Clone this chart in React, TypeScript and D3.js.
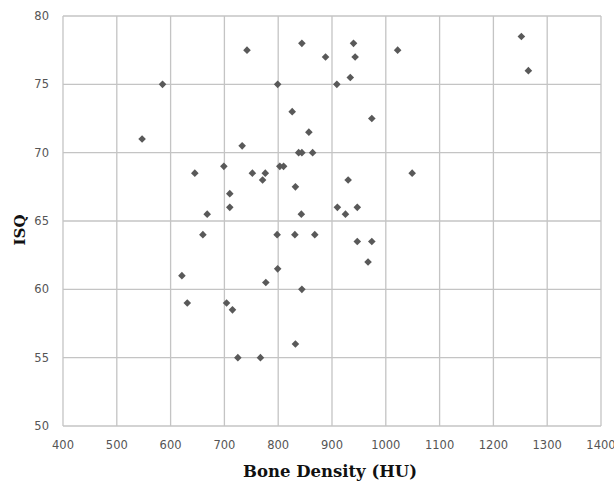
import React from "react";
import * as d3 from "d3";

const boneDensity = [
  547, 585, 621, 631, 645, 660, 668, 699, 704, 710, 710, 715, 725, 733, 742, 752,
  767, 771, 776, 777, 798, 799, 799, 803, 810, 826, 831, 832, 832, 838, 844, 844,
  843, 844, 857, 864, 868, 888, 909, 910, 925, 930, 934, 940, 943, 947, 947, 967,
  974, 974, 1022, 1049, 1252, 1265,
];
const isq = [
  71, 75, 61, 59, 68.5, 64, 65.5, 69, 59, 67, 66, 58.5, 55, 70.5, 77.5, 68.5,
  55, 68, 68.5, 60.5, 64, 61.5, 75, 69, 69, 73, 64, 67.5, 56, 70, 70, 78,
  65.5, 60, 71.5, 70, 64, 77, 75, 66, 65.5, 68, 75.5, 78, 77, 66, 63.5, 62,
  72.5, 63.5, 77.5, 68.5, 78.5, 76,
];
const xTicks = [400, 500, 600, 700, 800, 900, 1000, 1100, 1200, 1300, 1400];
const yTicks = [50, 55, 60, 65, 70, 75, 80];

export default function App() {
  const W = 614, H = 483;
  const left = 63, right = 601, top = 16, bottom = 426;
  const x = d3.scaleLinear().domain([400, 1400]).range([left, right]);
  const y = d3.scaleLinear().domain([50, 80]).range([bottom, top]);
  const r = 3.8;
  const diamond = (cx: number, cy: number) =>
    `M${cx},${cy - r}L${cx + r},${cy}L${cx},${cy + r}L${cx - r},${cy}Z`;
  return (
    <svg width={W} height={H} style={{ position: "absolute", left: 0, top: 0, background: "#fff" }}>
      <rect x={0} y={0} width={W} height={H} fill="#fff" />
      {xTicks.map((t) => (
        <line key={"gx" + t} x1={x(t)} x2={x(t)} y1={top} y2={bottom} stroke="#c4c4c4" strokeWidth={1.3} />
      ))}
      {yTicks.map((t) => (
        <line key={"gy" + t} x1={left} x2={right} y1={y(t)} y2={y(t)} stroke="#c4c4c4" strokeWidth={1.3} />
      ))}
      {xTicks.map((t) => (
        <text key={"tx" + t} x={x(t)} y={449} textAnchor="middle" fontFamily="DejaVu Sans, Verdana, sans-serif" fontSize={11.5} fill="#555">
          {t}
        </text>
      ))}
      {yTicks.map((t) => (
        <text key={"ty" + t} x={49} y={y(t) + 4} textAnchor="end" fontFamily="DejaVu Sans, Verdana, sans-serif" fontSize={11.5} fill="#555">
          {t}
        </text>
      ))}
      {boneDensity.map((v, i) => (
        <path key={"p" + i} d={diamond(x(v), y(isq[i]))} fill="#595959" />
      ))}
      <text x={330} y={477} textAnchor="middle" fontFamily="DejaVu Serif, serif" fontWeight="bold" fontSize={16.5} fill="#111">
        Bone Density (HU)
      </text>
      <text transform={`translate(25,230) rotate(-90)`} textAnchor="middle" fontFamily="DejaVu Serif, serif" fontWeight="bold" fontSize={15} fill="#111">
        ISQ
      </text>
    </svg>
  );
}
